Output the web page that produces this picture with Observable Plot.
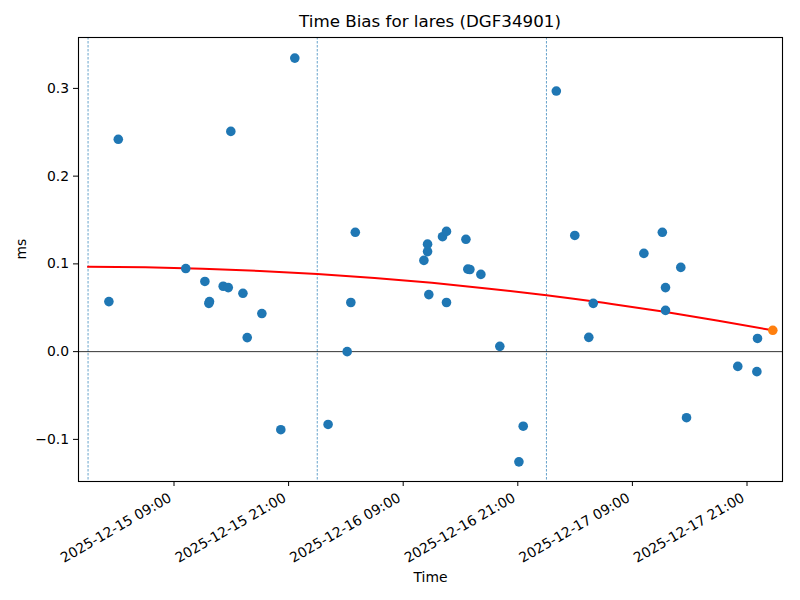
<!DOCTYPE html>
<html>
<head>
<meta charset="utf-8">
<script src="https://cdn.jsdelivr.net/npm/d3@7"></script>
<script src="https://cdn.jsdelivr.net/npm/@observablehq/plot@0.6"></script>
<style>
  body { margin: 0; background: #fff; font-family: "DejaVu Sans", sans-serif; }
  #title { width: 800px; height: 27px; box-sizing: border-box; padding: 13px 18px 0 78px; text-align: center; font-size: 16.7px; line-height: 1; color: #000; }
</style>
</head>
<body>
<div id="title">Time Bias for lares (DGF34901)</div>
<div id="chart"></div>
<script>
const titleText = "Time Bias for lares (DGF34901)";
const xLabel = "Time";
const yLabel = "ms";

// observation times (UTC) and time bias values (ms)
const obsTimes = [
  "2025-12-15 02:11", "2025-12-15 03:10", "2025-12-15 10:14", "2025-12-15 12:14",
  "2025-12-15 12:43", "2025-12-15 12:39", "2025-12-15 14:09", "2025-12-15 14:41",
  "2025-12-15 14:57", "2025-12-15 16:13", "2025-12-15 16:40", "2025-12-15 18:12",
  "2025-12-15 20:11", "2025-12-15 21:39", "2025-12-16 01:08", "2025-12-16 03:08",
  "2025-12-16 03:31", "2025-12-16 03:59", "2025-12-16 11:10", "2025-12-16 11:33",
  "2025-12-16 11:33", "2025-12-16 11:41", "2025-12-16 13:07", "2025-12-16 13:32",
  "2025-12-16 13:32", "2025-12-16 15:34", "2025-12-16 15:46", "2025-12-16 15:59",
  "2025-12-16 17:08", "2025-12-16 19:07", "2025-12-16 21:07", "2025-12-16 21:34",
  "2025-12-17 01:02", "2025-12-17 02:58", "2025-12-17 04:26", "2025-12-17 04:54",
  "2025-12-17 10:12", "2025-12-17 12:08", "2025-12-17 12:28", "2025-12-17 12:28",
  "2025-12-17 14:04", "2025-12-17 14:40", "2025-12-17 20:02", "2025-12-17 22:02",
  "2025-12-17 22:06"
];
const obsBias = [
  0.057, 0.242, 0.0947, 0.080,
  0.057, 0.055, 0.0745, 0.073,
  0.251, 0.0665, 0.016, 0.0434,
  -0.089, 0.3345, -0.083, 0.000,
  0.056, 0.136, 0.104, 0.114,
  0.1225, 0.065, 0.131, 0.137,
  0.056, 0.128, 0.094, 0.0936,
  0.088, 0.006, -0.1256, -0.085,
  0.297, 0.1324, 0.0163, 0.055,
  0.112, 0.136, 0.073, 0.047,
  0.096, -0.0753, -0.0168, -0.0228,
  0.015
];

// latest (highlighted) point
const lastTime = ["2025-12-17 23:42"];
const lastBias = [0.0243];

// fitted trend curve
const fitTimes = [
  "2025-12-15 00:00", "2025-12-15 06:00", "2025-12-15 12:00", "2025-12-15 18:00",
  "2025-12-16 00:00", "2025-12-16 06:00", "2025-12-16 12:00", "2025-12-16 18:00",
  "2025-12-17 00:00", "2025-12-17 06:00", "2025-12-17 12:00", "2025-12-17 18:00",
  "2025-12-17 23:42"
];
const fitBias = [
  0.0966, 0.0961, 0.0946, 0.0920,
  0.0885, 0.0839, 0.0784, 0.0718,
  0.0642, 0.0556, 0.0460, 0.0353,
  0.0243
];

// day boundaries (vertical dashed lines)
const dayLines = ["2025-12-15 00:00", "2025-12-16 00:00", "2025-12-17 00:00"];

// axis ticks
const xTickLabels = [
  "2025-12-15 09:00", "2025-12-15 21:00", "2025-12-16 09:00",
  "2025-12-16 21:00", "2025-12-17 09:00", "2025-12-17 21:00"
];
const yTicks = [-0.1, 0.0, 0.1, 0.2, 0.3];
const xDomainText = ["2025-12-14 23:00", "2025-12-18 00:43"];
const yDomain = [-0.148, 0.358];

const parse = d3.utcParse("%Y-%m-%d %H:%M");
const fmt = d3.utcFormat("%Y-%m-%d %H:%M");

const obs = obsTimes.map((t, i) => ({t: parse(t), v: obsBias[i]}));
const last = lastTime.map((t, i) => ({t: parse(t), v: lastBias[i]}));
const fit = fitTimes.map((t, i) => ({t: parse(t), v: fitBias[i]}));
const days = dayLines.map(parse);
const xTicks = xTickLabels.map(parse);

const blue = "#1f77b4";
const orange = "#ff7f0e";
const font = "DejaVu Sans, sans-serif";

const chart = Plot.plot({
  width: 800,
  height: 573,
  marginLeft: 78,
  marginRight: 18,
  marginTop: 10,
  marginBottom: 119,
  style: {fontFamily: font, fontSize: "13.9px", color: "#000", background: "#fff"},
  x: {type: "utc", domain: xDomainText.map(parse)},
  y: {domain: yDomain},
  marks: [
    Plot.ruleX(days, {stroke: blue, strokeWidth: 0.8, strokeDasharray: "2.5,1.5", strokeOpacity: 0.85}),
    Plot.ruleY([0], {stroke: "#000", strokeWidth: 0.8}),
    Plot.line(fit, {x: "t", y: "v", stroke: "#ff0000", strokeWidth: 2, curve: "natural"}),
    Plot.dot(obs, {x: "t", y: "v", r: 4.8, fill: blue, stroke: "none"}),
    Plot.dot(last, {x: "t", y: "v", r: 4.8, fill: orange, stroke: "none"}),
    Plot.axisY({ticks: yTicks, tickSize: 5, tickPadding: 4.5, tickFormat: d => d.toFixed(1).replace("-", "\u2212"), label: null, fontSize: 13.9}),
    Plot.axisX({ticks: xTicks, tickSize: 5, tickFormat: () => "", label: null}),
    Plot.text(xTicks, {x: d => d, text: d => fmt(d), frameAnchor: "bottom", dy: 19, dx: -1.5, rotate: -30, textAnchor: "end", lineAnchor: "bottom", fontSize: 13.9}),
    Plot.text([xLabel], {frameAnchor: "bottom", dy: 96, lineAnchor: "middle", fontSize: 13.9}),
    Plot.text([yLabel], {frameAnchor: "left", dx: -57, rotate: -90, lineAnchor: "middle", fontSize: 13.9}),
    Plot.frame({stroke: "#000", strokeWidth: 1.1})
  ]
});
document.getElementById("chart").appendChild(chart);
</script>
</body>
</html>
